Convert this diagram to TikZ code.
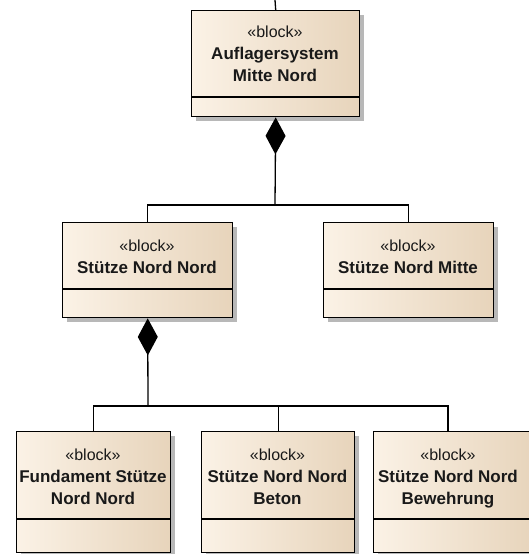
\documentclass[tikz,border=0pt]{standalone}
\usepackage{fontspec}
\setmainfont{Liberation Sans}
\usetikzlibrary{arrows.meta,shadows}
\definecolor{blockleft}{HTML}{FBF2E6}
\definecolor{blockright}{HTML}{E7D4BB}
\definecolor{blockshadow}{HTML}{B8B8B8}
\tikzset{
  block/.style={draw=black, line width=1.4pt, anchor=north west, inner sep=0pt,
    left color=blockleft, right color=blockright,
    drop shadow={shadow xshift=4pt, shadow yshift=-4pt, fill=blockshadow, opacity=1}},
  lbl/.style={align=center, inner sep=0pt, font=\fontsize{17}{22}\selectfont, text=black!90},
  wire/.style={draw=black, line width=1.3pt},
  compose/.style={wire, -{Diamond[length=37pt, width=20pt]}},
  divider/.style={draw=black, line width=1.3pt}
}
% stereotype line and bold name lines, each strutted so all labels share one height
\newcommand{\stereo}[1]{{\fontsize{16}{22}\selectfont\strut«#1»}\\}
\newcommand{\nm}[1]{\textbf{#1}\strut}
\begin{document}
\begin{tikzpicture}[x=1pt, y=-1pt]
\useasboundingbox (0,0) rectangle (529,554);
\clip (0,0) rectangle (529,554);

% block boxes
\node[block, minimum width=168pt, minimum height=106pt] (top) at (191,10) {};
\node[block, minimum width=170pt, minimum height=95pt] (ml) at (62,222) {};
\node[block, minimum width=170pt, minimum height=95pt] (mr) at (323,222) {};
\node[block, minimum width=154pt, minimum height=121pt] (b1) at (16,431) {};
\node[block, minimum width=153pt, minimum height=121pt] (b2) at (201,431) {};
\node[block, minimum width=160pt, minimum height=121pt] (b3) at (373,431) {};

% compartment separators
\draw[divider] (191,97) -- (359,97);
\draw[divider] (62,289) -- (232,289);
\draw[divider] (323,289) -- (493,289);
\draw[divider] (16,519) -- (170,519);
\draw[divider] (201,519) -- (354,519);
\draw[divider] (373,519) -- (533,519);

% labels
\node[lbl] (ttop) at (275,55.5) {\stereo{block}\nm{Auflagersystem}\\\nm{Mitte Nord}};
\node[lbl] (tml) at (147,258.5) {\stereo{block}\nm{Stütze Nord Nord}};
\node[lbl] (tmr) at (408,258.5) {\stereo{block}\nm{Stütze Nord Mitte}};
\node[lbl] (tb1) at (93,478) {\stereo{block}\nm{Fundament Stütze}\\\nm{Nord Nord}};
\node[lbl] (tb2) at (277.5,478) {\stereo{block}\nm{Stütze Nord Nord}\\\nm{Beton}};
\node[lbl] (tb3) at (448,478) {\stereo{block}\nm{Stütze Nord Nord}\\\nm{Bewehrung}};

% connectors
\coordinate (up) at (275,0);
\coordinate (j1) at (275,205);
\coordinate (j2) at (148,406);
\coordinate (b3in) at (448,431);

\draw[wire] (up) -- (top.north);
\draw[wire] (ml.north) |- (j1) -| (mr.north);
\draw[compose] (j1) -- (top.south);

\draw[wire] (b1.north) |- (j2) -| (b2.north);
\draw[wire] (j2) -| (b3in);
\draw[compose] (j2) -- (ml.south);
\end{tikzpicture}
\end{document}
